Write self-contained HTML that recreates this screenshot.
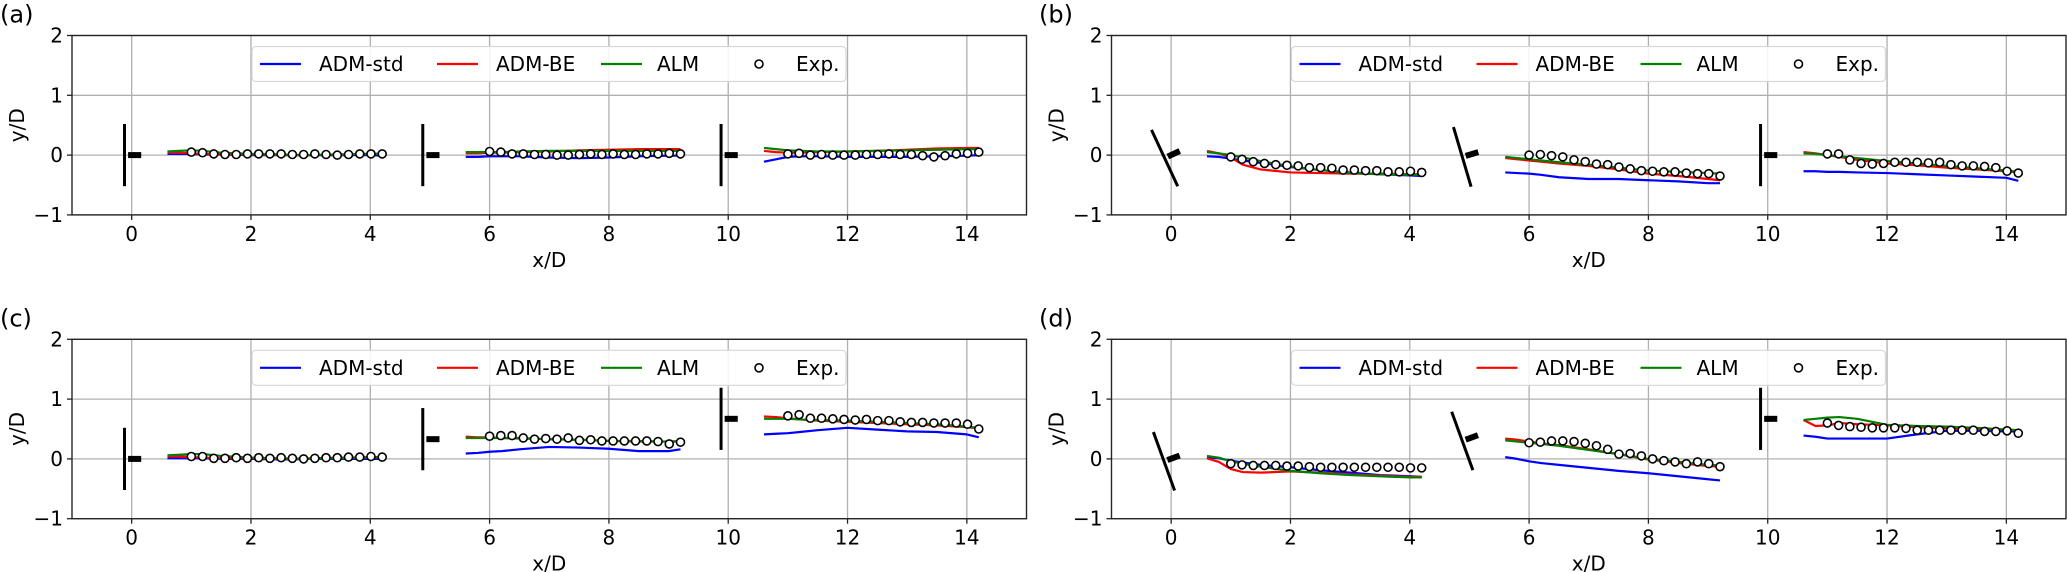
<!DOCTYPE html>
<html><head><meta charset="utf-8">
<style>
html,body{margin:0;padding:0;background:#fff;}
svg{display:block;font-family:"DejaVu Sans","Liberation Sans",sans-serif;}
</style></head>
<body>
<svg id="fig" width="2067" height="572" viewBox="0 0 2067 572" xmlns="http://www.w3.org/2000/svg"></svg>
<script>
// ---- shared data ----
const lineX = [0.6,0.8,1.0,1.2,1.5,2.0,2.5,3.0,3.5,4.0,4.2, 5.6,5.8,6.0,6.2,6.5,7.0,7.5,8.0,8.5,9.0,9.2, 10.6,10.8,11.0,11.2,11.5,12.0,12.5,13.0,13.5,14.0,14.2];
const expStarts = [1.0, 6.0, 11.0];
const xTicks = [0,2,4,6,8,10,12,14];
const yTicks = [-1,0,1,2];
const yTickLabels = ["\u22121","0","1","2"];
const xTickLabels = ["0","2","4","6","8","10","12","14"];
const seriesNames = ["ADM-std","ADM-BE","ALM","Exp."];

// ---- panel (a) ----
const aStd = [0.02,0.02,0.02,0.01,0.01,0.0,0.0,0.0,0.0,0.0,-0.01, -0.03,-0.03,-0.02,-0.02,-0.02,-0.04,-0.05,-0.04,-0.02,-0.01,-0.01, -0.11,-0.07,-0.03,-0.02,-0.02,-0.03,-0.03,-0.03,-0.02,-0.01,0.0];
const aBE = [0.04,0.04,0.03,0.02,0.01,0.01,0.0,0.0,0.01,0.02,0.02, 0.03,0.03,0.04,0.04,0.05,0.06,0.08,0.09,0.10,0.10,0.10, 0.07,0.05,0.04,0.04,0.05,0.06,0.07,0.09,0.11,0.12,0.12];
const aALM = [0.06,0.07,0.08,0.07,0.04,0.02,0.01,0.0,0.01,0.02,0.02, 0.05,0.05,0.05,0.05,0.06,0.07,0.07,0.07,0.07,0.07,0.07, 0.12,0.10,0.08,0.07,0.06,0.06,0.07,0.08,0.09,0.10,0.10];
const aExp = [0.05,0.04,0.02,0.01,0.01,0.02,0.02,0.02,0.02,0.01,0.01,0.02,0.01,0.0,0.01,0.02,0.02,0.02,
  0.06,0.05,0.02,0.02,0.01,0.01,0.0,0.0,0.01,0.02,0.01,0.02,0.01,0.01,0.02,0.02,0.03,0.02,
  0.02,0.03,0.0,0.01,0.0,0.0,0.0,0.01,0.01,0.02,0.01,0.01,-0.01,-0.03,-0.01,0.02,0.03,0.05];
const aTurbX = [-0.12,4.88,9.88];
const aTurbY = [0,0,0];
const aYaw = [0,0,0];

// ---- panel (b) ----
const bStd = [-0.02,-0.03,-0.06,-0.09,-0.13,-0.20,-0.25,-0.29,-0.32,-0.34,-0.35, -0.29,-0.30,-0.31,-0.33,-0.37,-0.40,-0.40,-0.42,-0.44,-0.47,-0.47, -0.27,-0.27,-0.28,-0.28,-0.29,-0.30,-0.32,-0.34,-0.36,-0.38,-0.43];
const bBE = [0.07,0.03,-0.04,-0.16,-0.24,-0.29,-0.30,-0.31,-0.31,-0.32,-0.32, -0.05,-0.07,-0.09,-0.11,-0.14,-0.18,-0.24,-0.31,-0.35,-0.40,-0.42, 0.05,0.03,0.0,-0.03,-0.08,-0.14,-0.17,-0.21,-0.24,-0.27,-0.29];
const bALM = [0.05,0.03,0.0,-0.04,-0.10,-0.19,-0.25,-0.30,-0.32,-0.33,-0.33, -0.03,-0.05,-0.07,-0.09,-0.12,-0.16,-0.21,-0.26,-0.28,-0.30,-0.31, 0.03,0.02,0.0,-0.02,-0.05,-0.10,-0.14,-0.18,-0.22,-0.26,-0.28];
const bExp = [-0.03,-0.07,-0.11,-0.14,-0.16,-0.17,-0.18,-0.21,-0.21,-0.22,-0.25,-0.25,-0.26,-0.26,-0.28,-0.28,-0.27,-0.29,
  0.0,0.01,-0.01,-0.03,-0.08,-0.11,-0.15,-0.16,-0.20,-0.23,-0.26,-0.27,-0.28,-0.28,-0.30,-0.31,-0.31,-0.35,
  0.02,0.02,-0.08,-0.14,-0.15,-0.14,-0.12,-0.12,-0.12,-0.13,-0.12,-0.16,-0.18,-0.18,-0.19,-0.21,-0.27,-0.30];
const bTurbX = [-0.11,4.88,9.88];
const bTurbY = [-0.05,-0.03,0];
const bYaw = [25,16.5,0];

// ---- panel (c) ----
const cStd = [0.01,0.01,0.01,0.01,0.0,0.0,-0.01,0.0,0.0,0.0,0.0, 0.09,0.10,0.12,0.13,0.16,0.20,0.19,0.17,0.13,0.13,0.16, 0.41,0.42,0.43,0.45,0.48,0.52,0.49,0.46,0.45,0.41,0.36];
const cBE = [0.04,0.04,0.03,0.02,0.01,0.01,0.0,0.01,0.02,0.03,0.03, 0.37,0.36,0.36,0.35,0.35,0.33,0.32,0.30,0.29,0.29,0.30, 0.71,0.70,0.68,0.66,0.64,0.62,0.60,0.58,0.56,0.53,0.51];
const cALM = [0.06,0.07,0.08,0.08,0.05,0.02,0.01,0.0,0.01,0.02,0.02, 0.35,0.35,0.35,0.35,0.34,0.33,0.32,0.30,0.30,0.29,0.29, 0.67,0.67,0.67,0.66,0.65,0.64,0.62,0.60,0.58,0.54,0.52];
const cExp = [0.04,0.04,0.01,0.01,0.02,0.01,0.02,0.01,0.02,0.01,0.0,0.01,0.02,0.02,0.03,0.03,0.04,0.03,
  0.38,0.39,0.39,0.35,0.33,0.34,0.33,0.35,0.31,0.32,0.30,0.30,0.30,0.30,0.30,0.29,0.25,0.28,
  0.72,0.74,0.68,0.68,0.67,0.66,0.65,0.66,0.64,0.64,0.62,0.61,0.61,0.60,0.60,0.60,0.58,0.50];
const cTurbX = [-0.12,4.88,9.88];
const cTurbY = [0,0.33,0.67];
const cYaw = [0,0,0];

// ---- panel (d) ----
const dStd = [0.03,0.01,-0.03,-0.06,-0.10,-0.14,-0.19,-0.23,-0.27,-0.29,-0.30, 0.03,0.0,-0.04,-0.07,-0.10,-0.15,-0.20,-0.24,-0.29,-0.34,-0.36, 0.39,0.37,0.34,0.34,0.34,0.34,0.41,0.47,0.47,0.46,0.46];
const dBE = [0.01,-0.05,-0.17,-0.22,-0.23,-0.21,-0.23,-0.26,-0.28,-0.30,-0.30, 0.34,0.32,0.29,0.26,0.23,0.16,0.08,-0.01,-0.07,-0.12,-0.13, 0.65,0.55,0.56,0.60,0.58,0.56,0.53,0.51,0.50,0.49,0.48];
const dALM = [0.05,0.02,-0.04,-0.08,-0.13,-0.20,-0.24,-0.27,-0.29,-0.31,-0.31, 0.31,0.29,0.27,0.25,0.22,0.15,0.08,0.0,-0.05,-0.10,-0.11, 0.65,0.67,0.69,0.70,0.67,0.57,0.55,0.54,0.52,0.49,0.48];
const dExp = [-0.08,-0.10,-0.11,-0.11,-0.11,-0.12,-0.12,-0.13,-0.14,-0.14,-0.14,-0.14,-0.14,-0.14,-0.14,-0.14,-0.15,-0.15,
  0.27,0.28,0.30,0.30,0.29,0.26,0.22,0.16,0.08,0.09,0.05,0.0,-0.03,-0.05,-0.08,-0.05,-0.08,-0.13,
  0.60,0.56,0.54,0.53,0.52,0.52,0.52,0.51,0.48,0.48,0.48,0.48,0.48,0.48,0.46,0.46,0.47,0.43];
const dTurbX = [-0.12,4.88,9.88];
const dTurbY = [-0.04,0.30,0.67];
const dYaw = [20,20,0];

const NS = "http://www.w3.org/2000/svg";
const svg = document.getElementById('fig');
function mk(tag, attrs, parent){
  const e = document.createElementNS(NS, tag);
  for (const k in attrs) e.setAttribute(k, attrs[k]);
  (parent||svg).appendChild(e);
  return e;
}

const panels = [
  {id:'a', left:72, top:35.5, std:aStd, be:aBE, alm:aALM, exp:aExp, tx:aTurbX, ty:aTurbY, yaw:aYaw, lx:0},
  {id:'b', left:1111.5, top:35.5, std:bStd, be:bBE, alm:bALM, exp:bExp, tx:bTurbX, ty:bTurbY, yaw:bYaw, lx:1039},
  {id:'c', left:72, top:339.3, std:cStd, be:cBE, alm:cALM, exp:cExp, tx:cTurbX, ty:cTurbY, yaw:cYaw, lx:0},
  {id:'d', left:1111.5, top:339.3, std:dStd, be:dBE, alm:dALM, exp:dExp, tx:dTurbX, ty:dTurbY, yaw:dYaw, lx:1039}
];
const W = 954.5, H = 179.4;
const XMIN=-1, XMAX=15, YMIN=-1, YMAX=2;

panels.forEach(p => {
  const sx = v => p.left + (v - XMIN) / (XMAX - XMIN) * W;
  const sy = v => p.top + H - (v - YMIN) / (YMAX - YMIN) * H;
  const g = mk('g', {});
  
  

  // panel label
  const pl = mk('text', {x:p.lx, y:p.top-13, 'font-size':24, fill:'#000'}, g);
  pl.textContent = '(' + p.id + ')';
  
  

  // grid
  const grid = mk('g', {stroke:'#b0b0b0', 'stroke-width':1.3}, g);
  
  
  xTicks.forEach(t => mk('line', {x1:sx(t), x2:sx(t), y1:p.top, y2:p.top+H}, grid));
  yTicks.forEach(t => mk('line', {x1:p.left, x2:p.left+W, y1:sy(t), y2:sy(t)}, grid));

  // ticks & labels
  xTicks.forEach((t,i) => {
    mk('line', {x1:sx(t), x2:sx(t), y1:p.top+H, y2:p.top+H+5, stroke:'#222', 'stroke-width':1.3}, g);
    const tl = mk('text', {x:sx(t), y:p.top+H+26, 'font-size':20, 'text-anchor':'middle', fill:'#000'}, g);
    tl.textContent = xTickLabels[i];
    
    
  });
  yTicks.forEach((t,i) => {
    mk('line', {x1:p.left-5, x2:p.left, y1:sy(t), y2:sy(t), stroke:'#222', 'stroke-width':1.3}, g);
    const tl = mk('text', {x:p.left-9, y:sy(t)+7, 'font-size':20, 'text-anchor':'end', fill:'#000'}, g);
    tl.textContent = yTickLabels[i];
    
    
  });

  // axis titles
  const xt = mk('text', {x:p.left+W/2, y:p.top+H+52, 'font-size':20, 'text-anchor':'middle', fill:'#000'}, g);
  xt.textContent = 'x/D';
  
  
  const yx = p.left - 48, yy = p.top + H/2;
  const yt = mk('text', {x:yx, y:yy, 'font-size':20, 'text-anchor':'middle', transform:'rotate(-90 '+yx+' '+yy+')', fill:'#000'}, g);
  yt.textContent = 'y/D';
  
  

  // turbines
  p.tx.forEach((cx, i) => {
    const cy = p.ty[i], th = p.yaw[i] * Math.PI / 180;
    const tg = mk('g', {}, g);
    
    
    const r = 0.52;
    mk('line', {x1:sx(cx - r*Math.sin(th)), y1:sy(cy + r*Math.cos(th)), x2:sx(cx + r*Math.sin(th)), y2:sy(cy - r*Math.cos(th)), stroke:'#000', 'stroke-width':3}, tg);
    mk('line', {x1:sx(cx + 0.06*Math.cos(th)), y1:sy(cy + 0.06*Math.sin(th)), x2:sx(cx + 0.28*Math.cos(th)), y2:sy(cy + 0.28*Math.sin(th)), stroke:'#000', 'stroke-width':6}, tg);
  });

  // series lines
  const series = [[p.std,'#0000ff','adm-std-line'],[p.be,'#ff0000','adm-be-line'],[p.alm,'#008000','alm-line']];
  series.forEach(([vals,col,name]) => {
    for (let s = 0; s < 3; s++) {
      const pts = [];
      for (let k = s*11; k < s*11+11; k++) pts.push(sx(lineX[k]).toFixed(2)+','+sy(vals[k]).toFixed(2));
      const pl2 = mk('polyline', {points:pts.join(' '), fill:'none', stroke:col, 'stroke-width':2.2, 'stroke-linejoin':'round'}, g);
      
      
    }
  });

  // experimental points
  for (let s = 0; s < 3; s++) {
    for (let j = 0; j < 18; j++) {
      const xv = expStarts[s] + j * 3.2 / 17;
      const c = mk('circle', {cx:sx(xv), cy:sy(p.exp[s*18+j]), r:4, fill:'#fff', stroke:'#000', 'stroke-width':1.6}, g);
      
      
    }
  }

  // spines
  const fr = mk('rect', {x:p.left, y:p.top, width:W, height:H, fill:'none', stroke:'#262626', 'stroke-width':1.4}, g);
  
  

  // legend
  const lg = mk('g', {}, g);
  
  
  const L = p.left + 180, T = p.top + 11;
  mk('rect', {x:L, y:T, width:594, height:35, rx:4, fill:'#fff', 'fill-opacity':0.85, stroke:'#d8d8d8', 'stroke-width':1.2}, lg);
  const my = T + 17.5;
  const cols = ['#0000ff','#ff0000','#008000'];
  const lineStarts = [8, 185, 349];
  const textStarts = [67, 244, 405];
  for (let i = 0; i < 3; i++) {
    const e = mk('g', {}, lg);
    
    
    mk('line', {x1:L+lineStarts[i], x2:L+lineStarts[i]+41, y1:my, y2:my, stroke:cols[i], 'stroke-width':2.2}, e);
    const t = mk('text', {x:L+textStarts[i], y:my+7, 'font-size':20, fill:'#000'}, e);
    t.textContent = seriesNames[i];
  }
  const e4 = mk('g', {}, lg);
  
  
  mk('circle', {cx:L+507, cy:my, r:4, fill:'#fff', stroke:'#000', 'stroke-width':1.6}, e4);
  const t4 = mk('text', {x:L+544, y:my+7, 'font-size':20, fill:'#000'}, e4);
  t4.textContent = seriesNames[3];
});
</script>
</body></html>
